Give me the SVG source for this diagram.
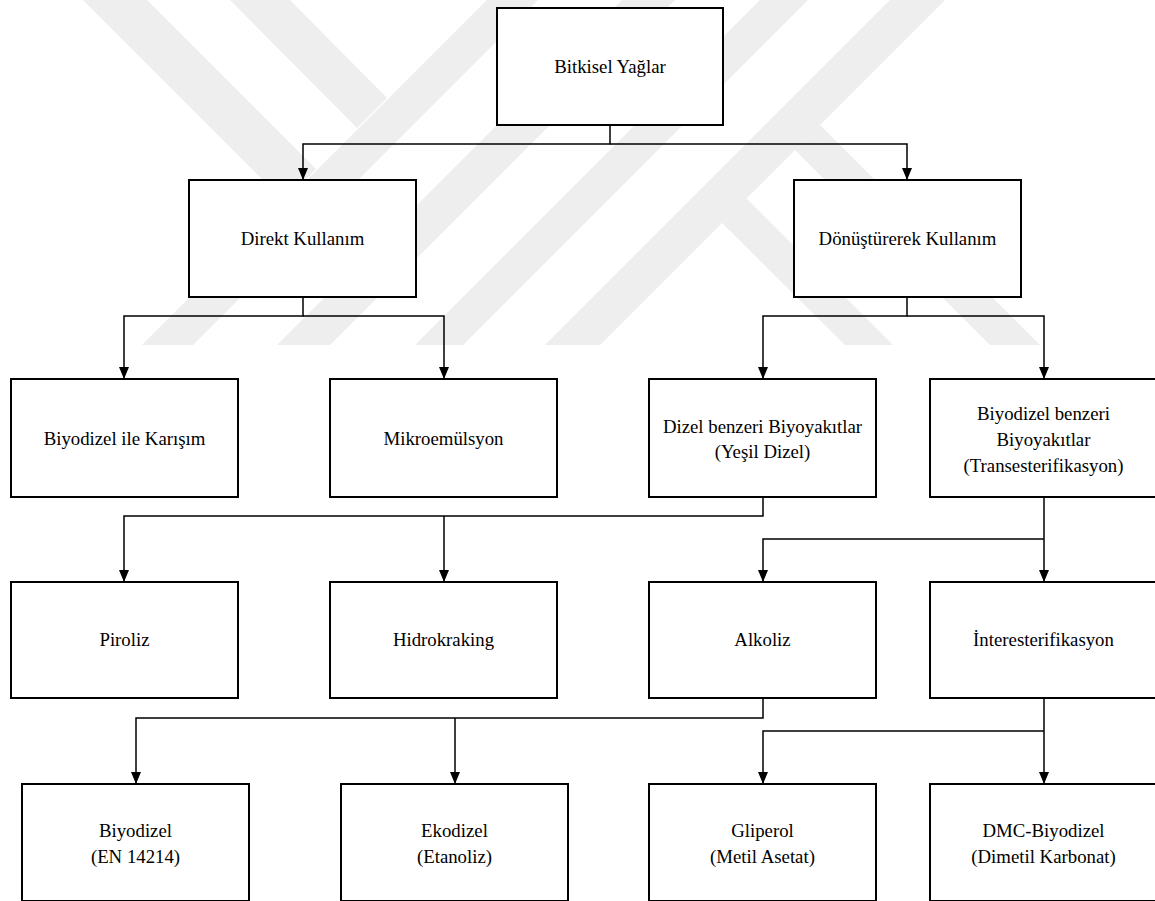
<svg xmlns="http://www.w3.org/2000/svg" width="1155" height="901" viewBox="0 0 1155 901">
<style>
.box{fill:#ffffff;stroke:#000000;stroke-width:2}
.t{font-family:"Liberation Serif","Times New Roman",serif;font-size:18.8px;fill:#000000;text-anchor:middle}
.c{fill:none;stroke:#000000;stroke-width:1.5}
.wm{fill:#eeeeee;stroke:none}
</style>
<defs>
<marker id="arr" viewBox="0 0 12 10" refX="12" refY="5" markerWidth="12" markerHeight="10" markerUnits="userSpaceOnUse" orient="auto">
<path d="M0,0 L12,5 L0,10 z" fill="#000000"/>
</marker>
</defs>
<rect x="0" y="0" width="1155" height="901" fill="#ffffff"/>
<g id="watermark">
<polygon class="wm" points="142,345 193,345 538,0 487,0"/>
<polygon class="wm" points="83,0 147,0 316,169 284,201"/>
<polygon class="wm" points="230,0 290,0 387,98 357,128"/>
<polygon class="wm" points="277,345 330,345 675,0 622,0"/>
<polygon class="wm" points="415,345 463,345 808,0 760,0"/>
<polygon class="wm" points="545,345 600,345 945,0 890,0"/>
<polygon class="wm" points="722,223 746,198 893,345 845,345"/>
<polygon class="wm" points="795,150 820,125 1040,345 990,345"/>
</g>
<g id="connectors">
<path class="c" d="M610,125 V144 H303 V180" marker-end="url(#arr)"/>
<path class="c" d="M610,144 H907 V180" marker-end="url(#arr)"/>
<path class="c" d="M303,297 V316 H124 V379" marker-end="url(#arr)"/>
<path class="c" d="M303,316 H444 V379" marker-end="url(#arr)"/>
<path class="c" d="M907,297 V316 H763 V379" marker-end="url(#arr)"/>
<path class="c" d="M907,316 H1044 V379" marker-end="url(#arr)"/>
<path class="c" d="M763,497 V516 H124 V582" marker-end="url(#arr)"/>
<path class="c" d="M444,516 V582" marker-end="url(#arr)"/>
<path class="c" d="M1044,497 V582" marker-end="url(#arr)"/>
<path class="c" d="M1044,539 H763 V582" marker-end="url(#arr)"/>
<path class="c" d="M763,698 V718 H136 V784" marker-end="url(#arr)"/>
<path class="c" d="M455,718 V784" marker-end="url(#arr)"/>
<path class="c" d="M1044,698 V784" marker-end="url(#arr)"/>
<path class="c" d="M1044,731 H763 V784" marker-end="url(#arr)"/>
</g>
<g id="n1"><rect class="box" x="497" y="8" width="226" height="117"/><text class="t" x="610" y="73">Bitkisel Yağlar</text></g>
<g id="n2"><rect class="box" x="189" y="180" width="227" height="117"/><text class="t" x="302.5" y="245">Direkt Kullanım</text></g>
<g id="n3"><rect class="box" x="794" y="180" width="227" height="117"/><text class="t" x="907.5" y="245">Dönüştürerek Kullanım</text></g>
<g id="n4"><rect class="box" x="11" y="379" width="227" height="118"/><text class="t" x="124.5" y="445">Biyodizel ile Karışım</text></g>
<g id="n5"><rect class="box" x="330" y="379" width="227" height="118"/><text class="t" x="443.5" y="445">Mikroemülsyon</text></g>
<g id="n6"><rect class="box" x="649" y="379" width="227" height="118"/><text class="t" x="762.5" y="433">Dizel benzeri Biyoyakıtlar</text><text class="t" x="762.5" y="458">(Yeşil Dizel)</text></g>
<g id="n7"><rect class="box" x="930" y="379" width="227" height="118"/><text class="t" x="1043.5" y="420">Biyodizel benzeri</text><text class="t" x="1043.5" y="446">Biyoyakıtlar</text><text class="t" x="1043.5" y="472">(Transesterifikasyon)</text></g>
<g id="n8"><rect class="box" x="11" y="582" width="227" height="116"/><text class="t" x="124.5" y="646">Piroliz</text></g>
<g id="n9"><rect class="box" x="330" y="582" width="227" height="116"/><text class="t" x="443.5" y="646">Hidrokraking</text></g>
<g id="n10"><rect class="box" x="649" y="582" width="227" height="116"/><text class="t" x="762.5" y="646">Alkoliz</text></g>
<g id="n11"><rect class="box" x="930" y="582" width="227" height="116"/><text class="t" x="1043.5" y="646">İnteresterifikasyon</text></g>
<g id="n12"><rect class="box" x="22" y="784" width="227" height="117"/><text class="t" x="135.5" y="837">Biyodizel</text><text class="t" x="135.5" y="863">(EN 14214)</text></g>
<g id="n13"><rect class="box" x="341" y="784" width="227" height="117"/><text class="t" x="454.5" y="837">Ekodizel</text><text class="t" x="454.5" y="863">(Etanoliz)</text></g>
<g id="n14"><rect class="box" x="649" y="784" width="227" height="117"/><text class="t" x="762.5" y="837">Gliperol</text><text class="t" x="762.5" y="863">(Metil Asetat)</text></g>
<g id="n15"><rect class="box" x="930" y="784" width="227" height="117"/><text class="t" x="1043.5" y="837">DMC-Biyodizel</text><text class="t" x="1043.5" y="863">(Dimetil Karbonat)</text></g>
</svg>
